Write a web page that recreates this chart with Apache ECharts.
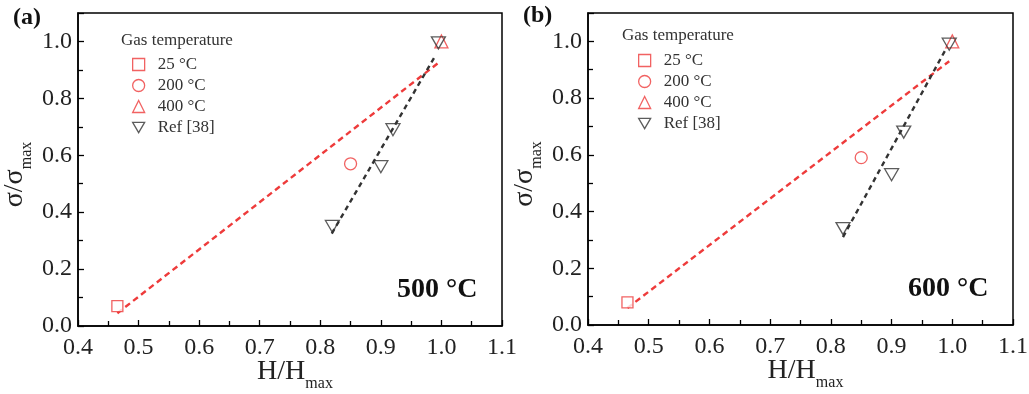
<!DOCTYPE html>
<html>
<head>
<meta charset="utf-8">
<script src="https://cdn.jsdelivr.net/npm/echarts@6/dist/echarts.min.js"></script>
<style>
  html, body { margin: 0; padding: 0; background: #fff; }
  #chart { width: 1029px; height: 394px; }
</style>
</head>
<body>
<div id="chart"></div>
<script>
// legend names
const names = ['25 °C', '200 °C', '400 °C', 'Ref [38]']

// panel (a) 500 °C : [H/Hmax, sigma/sigmaMax]
const a25 = [[0.465, 0.07]]
const a200 = [[0.85, 0.57]]
const a400 = [[1.0, 1.0]]
const aRef = [[0.82, 0.35], [0.90, 0.56], [0.92, 0.69], [0.995, 0.995]]
const aFitRed = [[0.465, 0.045], [0.995, 0.925]]
const aFitBlack = [[0.819, 0.325], [0.99, 0.95]]

// panel (b) 600 °C
const b25 = [[0.465, 0.08]]
const b200 = [[0.85, 0.59]]
const b400 = [[1.0, 1.0]]
const bRef = [[0.82, 0.34], [0.90, 0.53], [0.92, 0.68], [0.995, 0.99]]
const bFitRed = [[0.465, 0.06], [0.995, 0.93]]
const bFitBlack = [[0.82, 0.31], [0.99, 0.975]]

const RED = '#ee3b3b'
const GREY = '#333'
const FONT = '"Liberation Serif", "DejaVu Serif", serif'
const triDown = 'path://M0,0L20,0L10,17Z'

const chart = echarts.init(document.getElementById('chart'))

// axis name with a "max" subscript
const nameRich = {
    a: { fontFamily: FONT, fontSize: 28, color: '#222', lineHeight: 32 },
    b: { fontFamily: FONT, fontSize: 16, color: '#222', padding: [24, 0, 0, 0] }
}

function xAxis(i){
    return {
        type: 'value', gridIndex: i, min: 0.4, max: 1.1, interval: 0.1,
        name: '{a|H/H}{b|max}', nameLocation: 'middle', nameGap: 26, nameMoveOverlap: false,
        nameTextStyle: { rich: nameRich, padding: [0, 0, 0, 10] },
        axisLine: { lineStyle: { color: '#000', width: 1.5 } },
        axisTick: { inside: true, length: 6, lineStyle: { color: '#000', width: 1.3 } },
        minorTick: { show: true, splitNumber: 2, length: 5, lineStyle: { color: '#000', width: 1.3 } },
        axisLabel: { fontFamily: FONT, fontSize: 24, color: '#222', margin: 10,
            formatter: v => v.toFixed(1) },
        splitLine: { show: false }
    }
}

function yAxis(i){
    return {
        type: 'value', gridIndex: i, min: 0, max: 1.1, interval: 0.2,
        name: '{a|σ/σ}{b|max}', nameLocation: 'middle', nameGap: 43,
        nameTextStyle: { rich: nameRich, padding: [0, 10, 0, 0] },
        axisLine: { lineStyle: { color: '#000', width: 1.5 } },
        axisTick: { inside: true, length: 6, lineStyle: { color: '#000', width: 1.3 } },
        minorTick: { show: true, splitNumber: 2, length: 5, lineStyle: { color: '#000', width: 1.3 } },
        axisLabel: { fontFamily: FONT, fontSize: 24, color: '#222', margin: 6, showMaxLabel: false,
            formatter: v => v.toFixed(1) },
        splitLine: { show: false }
    }
}

function panel(i, d25, d200, d400, dRef, fitRed, fitBlack){
    const hollow = (c) => ({ color: '#fff', borderColor: c, borderWidth: 1.3 })
    return [
        { type: 'line', xAxisIndex: i, yAxisIndex: i, data: fitRed, showSymbol: false, silent: true,
          lineStyle: { color: RED, width: 2.4, type: [6, 4] }, z: 1 },
        { type: 'line', xAxisIndex: i, yAxisIndex: i, data: fitBlack, showSymbol: false, silent: true,
          lineStyle: { color: GREY, width: 2.4, type: [5, 4] }, z: 1 },
        { name: names[0], type: 'scatter', xAxisIndex: i, yAxisIndex: i, data: d25,
          symbol: 'rect', symbolSize: 11, itemStyle: hollow(RED), z: 3 },
        { name: names[1], type: 'scatter', xAxisIndex: i, yAxisIndex: i, data: d200,
          symbol: 'circle', symbolSize: 12, itemStyle: hollow(RED), z: 3 },
        { name: names[2], type: 'scatter', xAxisIndex: i, yAxisIndex: i, data: d400,
          symbol: 'triangle', symbolSize: 13, itemStyle: hollow(RED), z: 3 },
        { name: names[3], type: 'scatter', xAxisIndex: i, yAxisIndex: i, data: dRef,
          symbol: triDown, symbolSize: [14, 12], itemStyle: { color: 'rgba(255,255,255,0)', borderColor: GREY, borderWidth: 1.3 }, z: 4 }
    ]
}

function legend(left, top){
    return {
        orient: 'vertical', left, top, padding: 0, itemWidth: 12, itemHeight: 12, itemGap: 4,
        selectedMode: false,
        textStyle: { fontFamily: FONT, fontSize: 17, color: '#333', padding: [0, 0, 0, 8] },
        data: [
            { name: names[0], icon: 'rect', itemStyle: { color: '#fff', borderColor: RED, borderWidth: 1.3 } },
            { name: names[1], icon: 'circle', itemStyle: { color: '#fff', borderColor: RED, borderWidth: 1.3 } },
            { name: names[2], icon: 'triangle', itemStyle: { color: '#fff', borderColor: RED, borderWidth: 1.3 } },
            { name: names[3], icon: triDown, itemStyle: { color: '#fff', borderColor: GREY, borderWidth: 1.3 } }
        ]
    }
}

const boldText = (t, x, y, size) => ({
    type: 'text', left: x, top: y,
    style: { text: t, fontFamily: FONT, fontSize: size, fontWeight: 'bold', fill: '#111' }
})

chart.setOption({
    animation: false,
    grid: [
        { left: 78, top: 13, width: 424, height: 313, outerBoundsMode: 'none',
          show: true, borderColor: '#000', borderWidth: 1.5 },
        { left: 588, top: 13, width: 425, height: 312, outerBoundsMode: 'none',
          show: true, borderColor: '#000', borderWidth: 1.5 }
    ],
    xAxis: [xAxis(0), xAxis(1)],
    yAxis: [yAxis(0), yAxis(1)],
    legend: [legend(132, 56), legend(638, 52)],
    series: [
        ...panel(0, a25, a200, a400, aRef, aFitRed, aFitBlack),
        ...panel(1, b25, b200, b400, bRef, bFitRed, bFitBlack)
    ],
    graphic: [
        boldText('(a)', 13, 6, 24),
        boldText('(b)', 523, 4, 24),
        boldText('500 °C', 397, 276, 28),
        boldText('600 °C', 908, 275, 28),
        { type: 'text', left: 121, top: 32, style: { text: 'Gas temperature', fontFamily: FONT, fontSize: 17, fill: '#333' } },
        { type: 'text', left: 622, top: 27, style: { text: 'Gas temperature', fontFamily: FONT, fontSize: 17, fill: '#333' } }
    ]
})
</script>
</body>
</html>
